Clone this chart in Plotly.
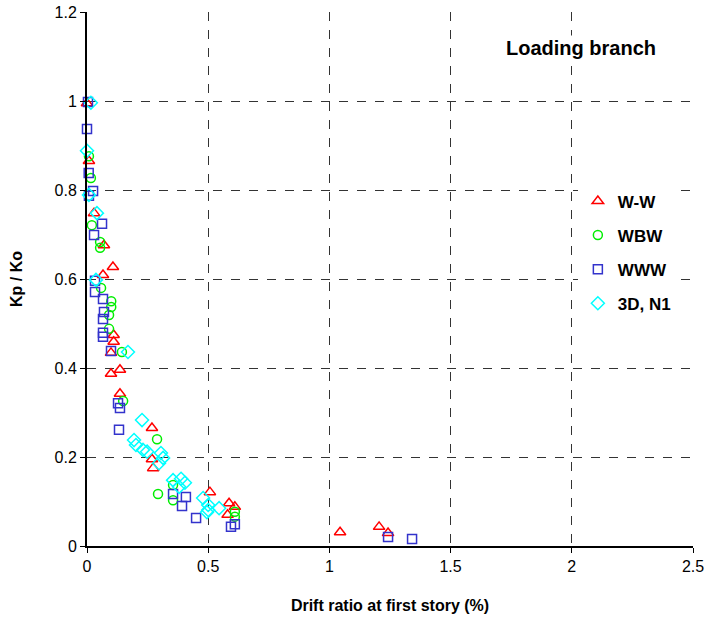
import plotly.graph_objects as go

ww_x = [0.0, 0.008, 0.029, 0.07, 0.107, 0.066, 0.11, 0.11, 0.099, 0.136, 0.099, 0.136,
        0.268, 0.268, 0.273, 0.507, 0.586, 0.61, 0.58, 1.044, 1.205, 1.242]
ww_y = [0.995, 0.865, 0.748, 0.676, 0.627, 0.609, 0.474, 0.459, 0.434, 0.396, 0.387, 0.342,
        0.265, 0.195, 0.175, 0.121, 0.096, 0.088, 0.07, 0.031, 0.043, 0.029]

wbw_x = [0.008, 0.016, 0.02, 0.054, 0.054, 0.058, 0.1, 0.1, 0.091, 0.091, 0.144, 0.149,
         0.289, 0.293, 0.355, 0.355, 0.61, 0.61]
wbw_y = [0.876, 0.827, 0.721, 0.683, 0.67, 0.58, 0.55, 0.537, 0.519, 0.488, 0.436, 0.326,
         0.24, 0.117, 0.137, 0.103, 0.077, 0.066]

www_x = [0.004, 0.0, 0.007, 0.025, 0.008, 0.062, 0.029, 0.033, 0.033, 0.066, 0.07, 0.066,
         0.066, 0.066, 0.099, 0.128, 0.136, 0.132, 0.355, 0.408, 0.392, 0.45, 0.61, 0.594,
         1.242, 1.341]
www_y = [0.998, 0.937, 0.838, 0.798, 0.787, 0.724, 0.699, 0.596, 0.571, 0.555, 0.526, 0.51,
         0.479, 0.47, 0.438, 0.321, 0.31, 0.261, 0.117, 0.11, 0.09, 0.063, 0.049, 0.043,
         0.02, 0.016]

d3_x = [0.016, 0.0, 0.008, 0.041, 0.037, 0.169, 0.227, 0.194, 0.202, 0.231, 0.248, 0.305,
        0.314, 0.297, 0.355, 0.388, 0.404, 0.38, 0.479, 0.5, 0.5, 0.545, 0.495]
d3_y = [0.996, 0.888, 0.789, 0.748, 0.598, 0.436, 0.283, 0.238, 0.227, 0.216, 0.212, 0.209,
        0.198, 0.186, 0.148, 0.151, 0.142, 0.133, 0.108, 0.092, 0.081, 0.085, 0.076]

x_ticks = [0, 0.5, 1, 1.5, 2, 2.5]
x_labels = ["0", "0.5", "1", "1.5", "2", "2.5"]
y_ticks = [0, 0.2, 0.4, 0.6, 0.8, 1.0, 1.2]
y_labels = ["0", "0.2", "0.4", "0.6", "0.8", "1", "1.2"]

fig = go.Figure()
series = [
    ("W-W", ww_x, ww_y, "triangle-up-open", "#FF0000", 10),
    ("WBW", wbw_x, wbw_y, "circle-open", "#00EE00", 9),
    ("WWW", www_x, www_y, "square-open", "#3333CC", 9),
    ("3D, N1", d3_x, d3_y, "diamond-open", "#00FFFF", 10),
]
for name, xs, ys, sym, col, sz in series:
    fig.add_trace(go.Scatter(
        x=xs, y=ys, mode="markers", name=name, legendgroup=name,
        marker=dict(symbol=sym, color=col, size=sz, line=dict(width=1.5, color=col)),
        cliponaxis=False,
    ))

font_main = "Liberation Sans, Arial, sans-serif"
fig.update_layout(
    width=709, height=621,
    margin=dict(l=87, r=16, t=12, b=75, autoexpand=False),
    paper_bgcolor="white", plot_bgcolor="white",
    font=dict(family=font_main, size=14, color="black"),
    showlegend=True,
    legend=dict(x=0.81, y=0.679, xanchor="left", yanchor="top",
                bgcolor="white", font=dict(size=17, family=font_main, weight="bold"),
                itemsizing="trace", tracegroupgap=9, itemwidth=30),
    xaxis=dict(range=[0, 2.5], tickvals=x_ticks, ticktext=x_labels, automargin=False,
               showgrid=True, gridcolor="#333333", griddash="dash", gridwidth=1,
               showline=True, linecolor="black", linewidth=2, mirror=False,
               ticks="outside", ticklen=5, tickcolor="black", zeroline=False,
               title=dict(text="<b>Drift ratio at first story (%)</b>", font=dict(size=16), standoff=26),
               tickfont=dict(size=16)),
    yaxis=dict(range=[0, 1.2], tickvals=y_ticks, ticktext=y_labels, automargin=False,
               showgrid=True, gridcolor="#333333", griddash="dash", gridwidth=1,
               showline=True, linecolor="black", linewidth=2, mirror=False,
               ticks="outside", ticklen=5, tickcolor="black", zeroline=False,
               title=dict(text="<b>Kp / Ko</b>", font=dict(size=16), standoff=28),
               tickfont=dict(size=16)),
    annotations=[dict(x=0.816, y=0.933, xref="paper", yref="paper",
                      text="<b>Loading branch</b>", showarrow=False,
                      font=dict(size=20, family=font_main), xanchor="center", yanchor="middle",
                      bgcolor="white")],
)

fig.write_html("out.html")
